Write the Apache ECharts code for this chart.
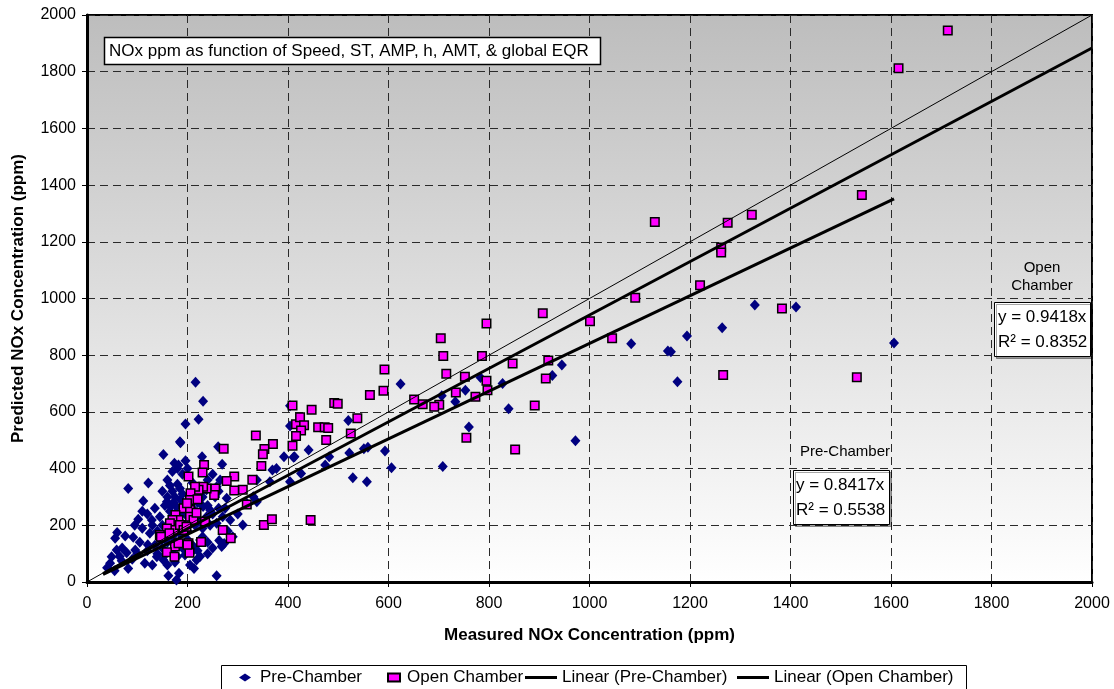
<!DOCTYPE html>
<html>
<head>
<meta charset="utf-8">
<title>Predicted vs Measured NOx</title>
<script src="https://cdn.jsdelivr.net/npm/echarts@6/dist/echarts.min.js"></script>
<style>
  html, body { margin: 0; padding: 0; background: #ffffff; }
  #chart { width: 1114px; height: 689px; }
</style>
</head>
<body>
<div id="chart"></div>
<script>
// Axis range shared by both axes (ppm)
const axisMin = 0;
const axisMax = 2000;
const axisStep = 200;

// Measured vs predicted NOx, pre-chamber engine [measured, predicted]
const preChamber = [
  [1606,843],[1411,970],[1329,977],[1264,897],[1194,868],[1162,812],[1175,706],[1083,840],[1156,815],
  [972,498],[945,765],[926,728],[839,611],[827,700],[783,721],[760,547],[753,676],[733,636],[706,657],
  [708,407],[624,698],[606,403],[593,462],[559,475],[551,470],[557,354],[529,368],[522,455],[520,570],
  [482,442],[474,413],[441,466],[426,383],[413,442],[404,354],[404,550],[404,622],[411,440],[392,442],
  [377,400],[369,395],[364,354],[338,360],[338,283],[331,301],[318,278],[310,201],[278,295],[273,136],
  [268,125],[263,146],[258,207],[285,219],[258,22],[261,477],[269,415],[265,360],[229,442],[216,705],
  [231,638],[222,574],[196,557],[185,495],[152,450],[174,419],[182,413],[196,428],[186,491],[82,330],
  [122,349],[112,286],[102,221],[129,219],[60,175],[56,154],[76,162],[92,158],[105,140],[125,172],
  [121,131],[49,89],[59,113],[79,103],[96,113],[46,66],[69,75],[82,48],[115,66],[139,89],[152,78],
  [162,22],[178,7],[183,31],[213,48],[218,78],[212,113],[225,148],[231,266],[245,254],[238,230],
  [225,313],[238,325],[258,336],[166,266],[159,283],
  [160,360],[165,340],[170,320],[175,300],[180,345],[185,330],[190,310],[172,280],[178,265],[186,290],
  [195,275],[160,300],[155,270],[165,250],[175,240],[190,245],[200,230],[210,260],[220,280],[230,300],
  [240,270],[250,240],[262,260],[270,230],[245,200],[230,190],[215,200],[200,180],[185,170],[170,160],
  [160,140],[150,120],[145,150],[135,130],[140,100],[155,95],[170,110],[180,90],[190,120],[200,150],
  [210,130],[220,110],[230,160],[240,140],[250,120],[160,60],[175,70],[195,95],[205,60],[225,90],
  [240,100],[150,200],[140,180],[130,200],[120,240],[110,250],[135,260],[145,230],[190,380],[200,400],
  [210,350],[170,390],[180,400],[150,320],[240,360],[250,380],[195,200],[185,215],[215,230],[225,215],
  [255,300],[262,320],[275,260],[280,180],[290,160],[300,240],[100,100],[90,80],[110,190],[95,200],
  [70,120],[65,90],[40,50],[55,40],[130,60],[120,110]
];

// Measured vs predicted NOx, open-chamber engine [measured, predicted]
const openChamber = [
  [1713,1945],[1615,1812],[1542,1365],[1323,1295],[1275,1267],[1130,1270],[1262,1180],[1262,1162],
  [1220,1047],[1091,1003],[1001,920],[1045,860],[907,948],[1383,965],[1266,730],[1532,722],[795,912],
  [704,860],[709,797],[786,797],[715,735],[752,724],[795,710],[797,676],[734,668],[773,653],[701,625],
  [691,618],[668,627],[651,644],[847,771],[918,781],[913,718],[891,623],[755,509],[852,467],[592,750],
  [590,675],[563,660],[492,631],[499,629],[447,608],[409,623],[538,578],[460,546],[473,546],[480,543],
  [416,556],[424,581],[432,553],[426,534],[416,515],[409,481],[476,501],[525,524],[445,219],[336,517],
  [370,487],[353,469],[350,451],[347,409],[272,470],[233,413],[230,386],[202,372],[293,372],[278,356],
  [329,361],[310,325],[293,323],[255,330],[253,307],[238,330],[231,336],[222,325],[215,336],[206,313],
  [205,289],[220,292],[318,273],[192,260],[176,236],[182,219],[170,219],[165,207],[205,254],[205,230],
  [235,213],[212,219],[352,201],[368,221],[270,183],[286,154],[227,141],[202,137],[175,125],[182,137],
  [159,105],[174,89],[204,103],[173,183],[159,189],[145,166],[164,172],[185,201],[192,183],[198,195],
  [218,244],[199,278],[147,160],[200,131]
];

// Least-squares fits through the origin: slope, R², and the x-span they are drawn over
const preSlope = 0.8417, preR2 = 0.5538, preSpan = [32, 1606];
const openSlope = 0.9418, openR2 = 0.8352, openSpan = [32, 2000];
// 1:1 reference line
const paritySpan = [0, 2000];

const seriesNames = ['Pre-Chamber', 'Open Chamber', 'Linear (Pre-Chamber)', 'Linear (Open Chamber)'];
const chartTitle = 'NOx ppm as function of Speed, ST, AMP, h, AMT, & global EQR';
const xTitle = 'Measured NOx Concentration (ppm)';
const yTitle = 'Predicted NOx Concentration (ppm)';

const FONT = "'Liberation Sans', Arial, sans-serif";

function fitLine(slope, span) {
  return span.map(x => [x, slope * x]);
}

const chart = echarts.init(document.getElementById('chart'), null, { renderer: 'canvas' });

const axisCommon = {
  type: 'value',
  min: axisMin,
  max: axisMax,
  interval: axisStep,
  axisLine: { show: true, onZero: false, lineStyle: { color: '#000', width: 3 } },
  axisTick: { show: true, inside: false, length: 5, lineStyle: { color: '#000', width: 1 } },
  axisLabel: { color: '#000', fontSize: 16, fontFamily: FONT, formatter: v => String(v) },
  splitLine: { show: true, lineStyle: { color: '#2a2a2a', width: 1, type: [8, 5] } },
  nameLocation: 'middle',
  nameTextStyle: { color: '#000', fontSize: 17, fontWeight: 'bold', fontFamily: FONT }
};

function legendFor(name, icon, left, itemWidth, itemHeight, pad) {
  return {
    data: [{ name: name, icon: icon }],
    left: left,
    top: 669,
    orient: 'horizontal',
    itemWidth: itemWidth,
    itemHeight: itemHeight,
    selectedMode: false,
    padding: 0,
    z: 10,
    textStyle: { color: '#000', fontSize: 17, fontFamily: FONT, padding: [0, 0, 0, pad] }
  };
}

const option = {
  animation: false,
  backgroundColor: '#ffffff',
  grid: {
    left: 87,
    top: 15,
    width: 1005,
    height: 567,
    show: true,
    borderColor: '#000',
    borderWidth: 2,
    backgroundColor: {
      type: 'linear', x: 0, y: 0, x2: 0, y2: 1,
      colorStops: [
        { offset: 0, color: '#bdbdbd' },
        { offset: 1, color: '#ffffff' }
      ]
    }
  },
  xAxis: Object.assign({}, axisCommon, {
    name: xTitle,
    nameGap: 45,
    axisLabel: Object.assign({}, axisCommon.axisLabel, { margin: 14 })
  }),
  yAxis: Object.assign({}, axisCommon, {
    name: yTitle,
    nameGap: 60,
    axisLabel: Object.assign({}, axisCommon.axisLabel, { margin: 11 })
  }),
  legend: [
    legendFor(seriesNames[0], 'diamond', 239, 12, 8, 4),
    legendFor(seriesNames[1], 'rect', 387, 12, 8, 2),
    legendFor(seriesNames[2], 'rect', 525, 32, 3, 0),
    legendFor(seriesNames[3], 'rect', 737, 32, 3, 0)
  ],
  graphic: [
    // legend frame
    {
      type: 'rect', z: 1,
      shape: { x: 221.5, y: 665.5, width: 745, height: 40 },
      style: { fill: '#fff', stroke: '#000', lineWidth: 1 }
    },
    // chart title box
    {
      type: 'rect', z: 20,
      shape: { x: 104.5, y: 37.5, width: 496, height: 27 },
      style: { fill: '#fff', stroke: '#000', lineWidth: 1.5 }
    },
    {
      type: 'text', z: 21, x: 109, y: 51,
      style: { text: chartTitle, fill: '#000', font: '17px ' + FONT, verticalAlign: 'middle' }
    },
    // open chamber fit label
    {
      type: 'text', z: 21, x: 1042, y: 268,
      style: { text: 'Open', fill: '#000', font: '15px ' + FONT, align: 'center', verticalAlign: 'middle' }
    },
    {
      type: 'text', z: 21, x: 1042, y: 286,
      style: { text: 'Chamber', fill: '#000', font: '15px ' + FONT, align: 'center', verticalAlign: 'middle' }
    },
    {
      type: 'rect', z: 20,
      shape: { x: 994.5, y: 302.5, width: 96, height: 54 },
      style: { fill: '#fff', stroke: '#000', lineWidth: 1, shadowColor: 'rgba(0,0,0,0.35)', shadowOffsetX: 2, shadowOffsetY: 2 }
    },
    {
      type: 'text', z: 21, x: 998, y: 317,
      style: { text: 'y = ' + openSlope.toFixed(4) + 'x', fill: '#000', font: '17px ' + FONT, verticalAlign: 'middle' }
    },
    {
      type: 'text', z: 21, x: 998, y: 342,
      style: { text: 'R\u00B2 = ' + openR2.toFixed(4), fill: '#000', font: '17px ' + FONT, verticalAlign: 'middle' }
    },
    // pre-chamber fit label
    {
      type: 'text', z: 21, x: 800, y: 452,
      style: { text: 'Pre-Chamber', fill: '#000', font: '15px ' + FONT, verticalAlign: 'middle' }
    },
    {
      type: 'rect', z: 20,
      shape: { x: 793.5, y: 470.5, width: 96, height: 54 },
      style: { fill: '#fff', stroke: '#000', lineWidth: 1, shadowColor: 'rgba(0,0,0,0.35)', shadowOffsetX: 2, shadowOffsetY: 2 }
    },
    {
      type: 'text', z: 21, x: 796, y: 485,
      style: { text: 'y = ' + preSlope.toFixed(4) + 'x', fill: '#000', font: '17px ' + FONT, verticalAlign: 'middle' }
    },
    {
      type: 'text', z: 21, x: 796, y: 510,
      style: { text: 'R\u00B2 = ' + preR2.toFixed(4), fill: '#000', font: '17px ' + FONT, verticalAlign: 'middle' }
    }
  ],
  series: [
    {
      name: seriesNames[0],
      type: 'scatter',
      data: preChamber,
      symbol: 'diamond',
      symbolSize: [10, 11],
      itemStyle: { color: '#000080', opacity: 1 },
      z: 2
    },
    {
      name: seriesNames[1],
      type: 'scatter',
      data: openChamber,
      symbol: 'rect',
      symbolSize: 8.5,
      itemStyle: { color: '#ff00ff', borderColor: '#000', borderWidth: 1.5, opacity: 1 },
      z: 3
    },
    {
      name: '1:1',
      type: 'line',
      data: fitLine(1, paritySpan),
      symbol: 'none',
      itemStyle: { color: '#000' },
      lineStyle: { color: '#000', width: 1 },
      z: 4,
      silent: true
    },
    {
      name: seriesNames[2],
      type: 'line',
      data: fitLine(preSlope, preSpan),
      symbol: 'none',
      itemStyle: { color: '#000' },
      lineStyle: { color: '#000', width: 3 },
      z: 5
    },
    {
      name: seriesNames[3],
      type: 'line',
      data: fitLine(openSlope, openSpan),
      symbol: 'none',
      itemStyle: { color: '#000' },
      lineStyle: { color: '#000', width: 3 },
      z: 5
    }
  ]
};

chart.setOption(option);
</script>
</body>
</html>
